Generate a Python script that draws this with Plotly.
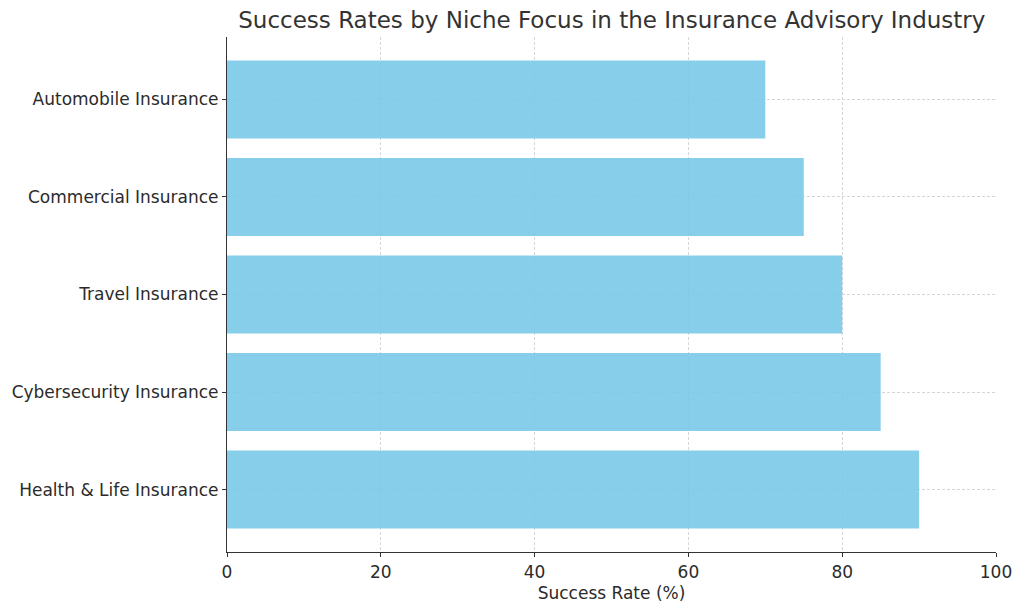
import plotly.graph_objects as go

categories = ["Health & Life Insurance", "Cybersecurity Insurance", "Travel Insurance",
              "Commercial Insurance", "Automobile Insurance"]
success_rates = [90, 85, 80, 75, 70]
x_ticks = [0, 20, 40, 60, 80, 100]

fig = go.Figure()
fig.add_trace(go.Bar(
    x=success_rates,
    y=list(range(len(categories))),
    orientation="h",
    width=0.8,
    marker=dict(color="rgba(122,201,233,0.9)", line=dict(width=0)),
    hoverinfo="x+y",
))

font_family = "DejaVu Sans, Verdana, sans-serif"
fig.update_layout(
    width=1024, height=611,
    margin=dict(l=225, r=27, t=37, b=56),
    paper_bgcolor="white", plot_bgcolor="white",
    font=dict(family=font_family, size=17, color="#2b2b2b"),
    title=dict(text="Success Rates by Niche Focus in the Insurance Advisory Industry",
               x=0.5975, xanchor="center", y=0.967, yanchor="middle",
               font=dict(size=23, color="#333333")),
    showlegend=False,
    bargap=0.2,
)
fig.update_xaxes(
    range=[0, 100], tickvals=x_ticks, ticktext=[str(v) for v in x_ticks],
    showline=True, linecolor="#333333", linewidth=1.2,
    ticks="outside", ticklen=4, tickcolor="#333333", tickwidth=1.2,
    showgrid=True, gridcolor="#d6d6d6", griddash="3px,2px", gridwidth=0.8,
    zeroline=False, layer="above traces",
    title=dict(text="Success Rate (%)", font=dict(size=17), standoff=6),
    tickfont=dict(size=17),
)
fig.update_yaxes(
    range=[-0.64, 4.64], tickvals=list(range(len(categories))), ticktext=categories,
    showline=True, linecolor="#333333", linewidth=1.2,
    ticks="outside", ticklen=4, tickcolor="#333333", tickwidth=1.2,
    showgrid=True, gridcolor="#d6d6d6", griddash="3px,2px", gridwidth=0.8,
    zeroline=False, layer="above traces",
    tickfont=dict(size=17),
)

fig.write_html("out.html")
